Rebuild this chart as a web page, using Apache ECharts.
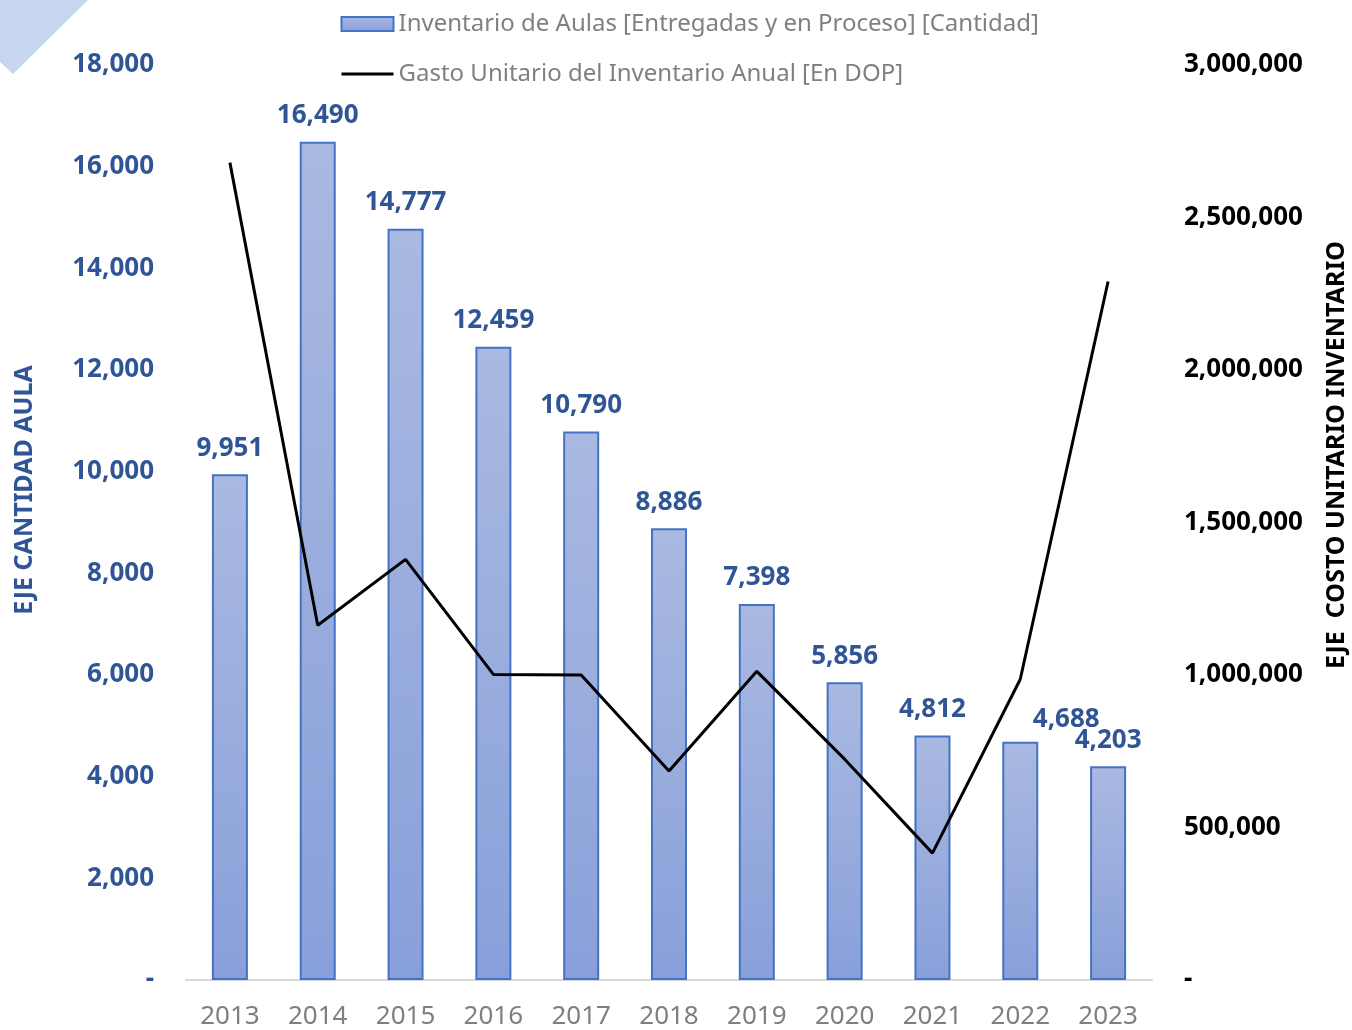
<!DOCTYPE html>
<html>
<head>
<meta charset="utf-8">
<script src="https://cdn.jsdelivr.net/npm/echarts@6/dist/echarts.min.js"></script>
<style>
  html, body { margin: 0; padding: 0; background: #fff; }
  #chart { width: 1352px; height: 1030px; }
</style>
</head>
<body>
<div id="chart"></div>
<script>
"use strict";
var years = ['2013', '2014', '2015', '2016', '2017', '2018', '2019', '2020', '2021', '2022', '2023'];
var aulas = [9951, 16490, 14777, 12459, 10790, 8886, 7398, 5856, 4812, 4688, 4203];
var gastoUnitario = [2680000, 1163000, 1379000, 1002000, 1000000, 685000, 1012000, 724000, 416000, 986000, 2290000];
var barName = 'Inventario de Aulas [Entregadas y en Proceso] [Cantidad]';
var lineName = 'Gasto Unitario del Inventario Anual [En DOP]';

var FONT = '"Noto Sans", "Liberation Sans", sans-serif';
var blue = '#2F5597';

function fmt(v) {
  if (v === 0) return '-';
  return v.toString().replace(/\B(?=(\d{3})+(?!\d))/g, ',');
}

var barFill = new echarts.graphic.LinearGradient(0, 0, 0, 1, [
  { offset: 0, color: '#AAB9E1' },
  { offset: 1, color: '#88A0DA' }
]);

var barData = aulas.map(function (v, i) {
  var item = { value: v };
  if (years[i] === '2022') {
    item.label = { offset: [46, 4] };
  }
  return item;
});

echarts.init(document.getElementById('chart'))
.setOption({
  backgroundColor: '#fff',
  animation: false,
  textStyle: { fontFamily: FONT },
  graphic: [
    {
      type: 'polygon',
      shape: { points: [[0, 0], [88, 0], [13, 74], [0, 62]] },
      style: { fill: '#C8D5EF' }
    },
    {
      type: 'text',
      x: 25, y: 490, rotation: Math.PI / 2,
      style: {
        text: 'EJE CANTIDAD AULA',
        fill: blue, font: 'bold 25px ' + FONT,
        align: 'center', verticalAlign: 'middle'
      }
    },
    {
      type: 'text',
      x: 1337, y: 455, rotation: Math.PI / 2,
      style: {
        text: 'EJE  COSTO UNITARIO INVENTARIO',
        fill: '#000', font: 'bold 25px ' + FONT,
        align: 'center', verticalAlign: 'middle'
      }
    }
  ],
  legend: {
    orient: 'vertical',
    left: 335,
    top: 7,
    itemGap: 26,
    itemWidth: 52,
    itemHeight: 14,
    textStyle: { color: '#808080', fontSize: 24, fontFamily: FONT },
    data: [
      { name: barName, icon: 'rect' },
      { name: lineName, itemStyle: { opacity: 0 }, lineStyle: { width: 3 } }
    ]
  },
  grid: {
    left: 186,
    right: 200,
    top: 65,
    bottom: 49
  },
  xAxis: {
    type: 'category',
    data: years,
    axisLine: { lineStyle: { color: '#D9D9D9', width: 2 } },
    axisTick: { show: false },
    axisLabel: { color: '#7F7F7F', fontSize: 26, margin: 24, fontFamily: FONT }
  },
  yAxis: [
    {
      type: 'value',
      min: 0,
      max: 18000,
      interval: 2000,
      splitLine: { show: false },
      axisLine: { show: false },
      axisTick: { show: false },
      axisLabel: {
        color: blue, fontSize: 26, fontWeight: 'bold', margin: 32, fontFamily: FONT,
        formatter: fmt
      }
    },
    {
      type: 'value',
      min: 0,
      max: 3000000,
      interval: 500000,
      splitLine: { show: false },
      axisLine: { show: false },
      axisTick: { show: false },
      axisLabel: {
        color: '#000', fontSize: 26, fontWeight: 'bold', margin: 32, fontFamily: FONT,
        formatter: fmt
      }
    }
  ],
  series: [
    {
      name: barName,
      type: 'bar',
      yAxisIndex: 0,
      barWidth: 36,
      data: barData,
      itemStyle: {
        color: barFill,
        borderColor: '#4472C4',
        borderWidth: 2
      },
      label: {
        show: true,
        position: 'top',
        distance: 13,
        color: blue,
        fontSize: 26,
        fontWeight: 'bold',
        fontFamily: FONT,
        formatter: function (p) { return fmt(p.value); }
      }
    },
    {
      name: lineName,
      type: 'line',
      yAxisIndex: 1,
      data: gastoUnitario,
      symbol: 'none',
      lineStyle: { color: '#000', width: 3 },
      itemStyle: { color: '#000' }
    }
  ]
});
</script>
</body>
</html>
